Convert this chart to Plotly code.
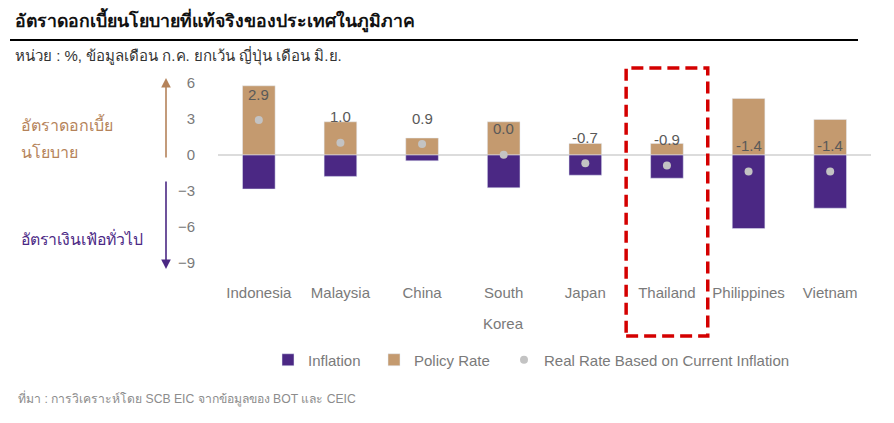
import plotly.graph_objects as go

categories = ["Indonesia", "Malaysia", "China", "South Korea", "Japan", "Thailand", "Philippines", "Vietnam"]
tick_labels = ["Indonesia", "Malaysia", "China", "South", "Japan", "Thailand", "Philippines", "Vietnam"]
policy_rate = [5.75, 2.75, 1.4, 2.75, 0.95, 0.95, 4.7, 2.95]
inflation = [-2.85, -1.8, -0.5, -2.75, -1.7, -1.95, -6.15, -4.45]
real_rate = [2.9, 1.0, 0.9, 0.0, -0.7, -0.9, -1.4, -1.4]
y_ticks = [6, 3, 0, -3, -6, -9]
highlight = "Thailand"

W, H = 894, 423
OFF = 8  # page body margin
def px(x): return (x - OFF) / W
def py(y): return 1 - (y - OFF) / H

PURPLE = "#4b2884"
TAN = "#c49a6f"
ARROW_TAN = "#b5835a"
DOT = "#c3c3c3"
GRAY = "#7a7a7a"
FONT = "Liberation Sans, Arial, sans-serif"

fig = go.Figure()
fig.add_trace(go.Bar(x=categories, y=inflation, name="Inflation", marker_color=PURPLE, width=0.4,
                     legendwidth=61))
fig.add_trace(go.Bar(x=categories, y=policy_rate, name="Policy Rate", marker_color=TAN, width=0.4,
                     legendwidth=85))
fig.add_trace(go.Scatter(x=categories, y=real_rate, mode="markers", name="Real Rate Based on Current Inflation",
                         marker=dict(color=DOT, size=8)))

annotations = []
for c, r in zip(categories, real_rate):
    annotations.append(dict(x=c, y=r, xref="x", yref="y", text=f"{r:.1f}", showarrow=False,
                            yshift=26, font=dict(size=15, color="#595959", family=FONT)))

annotations.append(dict(x="South Korea", xref="x", y=py(323), yref="paper", yanchor="middle",
                        text="Korea", showarrow=False, font=dict(size=15, color=GRAY, family=FONT)))

annotations += [
    dict(x=px(13), y=py(20), xref="paper", yref="paper", xanchor="left", yanchor="middle", showarrow=False,
         text="<b>อัตราดอกเบี้ยนโยบายที่แท้จริงของประเทศในภูมิภาค</b>", font=dict(size=17.7, color="#111111", family=FONT)),
    dict(x=px(13), y=py(55), xref="paper", yref="paper", xanchor="left", yanchor="middle", showarrow=False,
         text="หน่วย : %, ข้อมูลเดือน ก.ค. ยกเว้น ญี่ปุ่น เดือน มิ.ย.", font=dict(size=15, color="#333333", family=FONT)),
    dict(x=px(16), y=py(398), xref="paper", yref="paper", xanchor="left", yanchor="middle", showarrow=False,
         text="ที่มา : การวิเคราะห์โดย SCB EIC จากข้อมูลของ BOT และ CEIC", font=dict(size=12.2, color="#8c8c8c", family=FONT)),
    dict(x=px(19), y=py(124), xref="paper", yref="paper", xanchor="left", yanchor="middle", showarrow=False,
         text="อัตราดอกเบี้ย", font=dict(size=16, color=ARROW_TAN, family=FONT)),
    dict(x=px(19), y=py(152), xref="paper", yref="paper", xanchor="left", yanchor="middle", showarrow=False,
         text="นโยบาย", font=dict(size=16, color=ARROW_TAN, family=FONT)),
    dict(x=px(19), y=py(238), xref="paper", yref="paper", xanchor="left", yanchor="middle", showarrow=False,
         text="อัตราเงินเฟ้อทั่วไป", font=dict(size=15.8, color=PURPLE, family=FONT)),
    dict(x=px(166), y=py(78), xref="paper", yref="paper", ax=0, ay=81, axref="pixel", ayref="pixel",
         text="", showarrow=True, arrowhead=2, arrowsize=1.2, arrowwidth=1.6, arrowcolor=ARROW_TAN),
    dict(x=px(166), y=py(269), xref="paper", yref="paper", ax=0, ay=-89, axref="pixel", ayref="pixel",
         text="", showarrow=True, arrowhead=2, arrowsize=1.2, arrowwidth=1.6, arrowcolor=PURPLE),
]

hi = categories.index(highlight)
shapes = [
    dict(type="line", xref="paper", yref="paper", x0=px(10), x1=px(858), y0=py(40), y1=py(40),
         line=dict(color="#000000", width=2)),
    dict(type="rect", xref="x", yref="paper", x0=hi - 0.5, x1=hi + 0.5, y0=py(336), y1=py(68),
         line=dict(color="#d40000", width=3.5, dash="12px,6px")),
]

fig.update_layout(
    width=W, height=H, margin=dict(l=0, r=0, t=0, b=0),
    paper_bgcolor="white", plot_bgcolor="white",
    barmode="relative",
    showlegend=True,
    legend=dict(orientation="h", x=px(268), y=py(360), xanchor="left", yanchor="middle",
                font=dict(size=15, color=GRAY, family=FONT), itemwidth=30, tracegroupgap=0),
    annotations=annotations, shapes=shapes,
    xaxis=dict(domain=[px(218), px(871)], tickmode="array", tickvals=categories, ticktext=tick_labels,
               showline=False, showgrid=False, ticks="", tickfont=dict(size=15, color=GRAY, family=FONT),
               ticklabelstandoff=12),
    yaxis=dict(domain=[py(270), py(72)], range=[-9.6, 6.9], tickvals=y_ticks, showgrid=False,
               zeroline=True, zerolinecolor="#dcdcdc", zerolinewidth=2, showline=False, ticks="",
               tickfont=dict(size=15, color=GRAY, family=FONT), ticklabelstandoff=22),
)

fig.write_html("out.html")
